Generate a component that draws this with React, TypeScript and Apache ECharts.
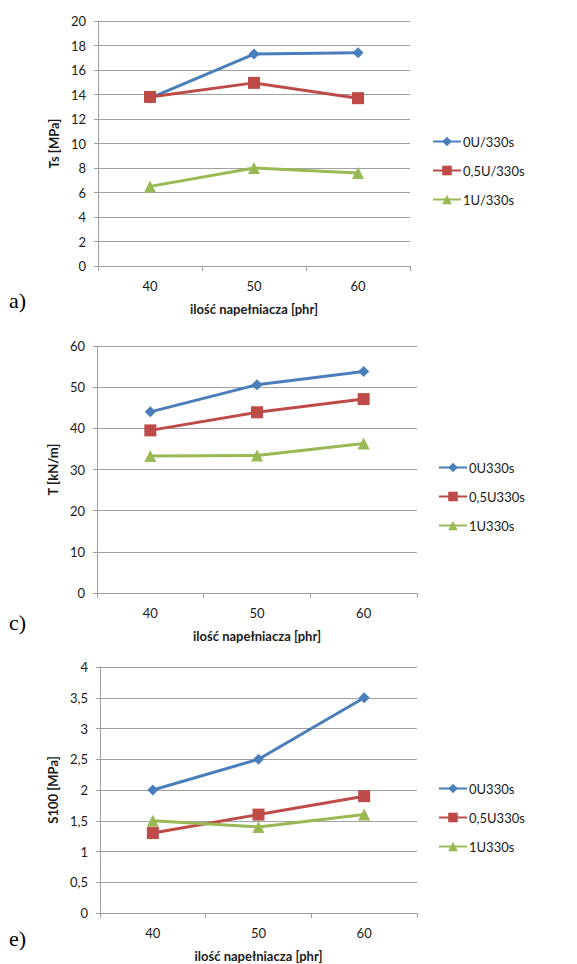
import React, { useEffect, useRef } from "react";
import * as echarts from "echarts";

const categories = ["40", "50", "60"];

const namesA = ["0U/330s", "0,5U/330s", "1U/330s"];
const namesB = ["0U330s", "0,5U330s", "1U330s"];

const tsBlue = [13.7, 17.3, 17.4];
const tsRed = [13.8, 14.95, 13.7];
const tsGreen = [6.5, 8.0, 7.6];

const tBlue = [44.0, 50.6, 53.8];
const tRed = [39.5, 43.9, 47.1];
const tGreen = [33.3, 33.4, 36.3];

const sBlue = [2.0, 2.5, 3.5];
const sRed = [1.3, 1.6, 1.9];
const sGreen = [1.5, 1.4, 1.6];

const xName = "ilość napełniacza [phr]";
const yNames = ["Ts [MPa]", "T [kN/m]", "S100 [MPa]"];
const panelLabels = ["a)", "c)", "e)"];

const COLORS = ["#4a7ebb", "#be4b48", "#98b954"];
const SYMBOLS = ["diamond", "rect", "triangle"];
const SIZES = [11, 12, 12];
const FONT = "Lato, 'Open Sans', sans-serif";

export default function App() {
  const ref = useRef<HTMLDivElement>(null);
  useEffect(() => {
    if (!ref.current) return;
    const chart = echarts.init(ref.current, null, { renderer: "svg" });

    const grids = [
      { left: 98, top: 21, width: 312, height: 245 },
      { left: 97, top: 346, width: 320, height: 247 },
      { left: 100, top: 667, width: 317, height: 246 },
    ];
    const yRanges = [
      { max: 20, interval: 2 },
      { max: 60, interval: 10 },
      { max: 4, interval: 0.5 },
    ];
    const legendPos = [
      { left: 432, top: 135 },
      { left: 438, top: 461 },
      { left: 438, top: 782 },
    ];
    const labelY = [302, 624, 940];
    const data = [
      [tsBlue, tsRed, tsGreen],
      [tBlue, tRed, tGreen],
      [sBlue, sRed, sGreen],
    ];
    const names = [namesA, namesB, namesB];

    const axisGray = "#a0a0a0";
    const textColor = "#1a1a1a";

    const xAxis = grids.map((_, i) => ({
      type: "category",
      gridIndex: i,
      data: categories,
      boundaryGap: true,
      name: xName,
      nameLocation: "middle",
      nameGap: 36,
      nameTextStyle: { fontFamily: FONT, fontWeight: "bold", fontSize: 13, color: textColor },
      axisLine: { lineStyle: { color: axisGray, width: 1 } },
      axisTick: { show: true, length: 5, lineStyle: { color: axisGray } },
      axisLabel: { margin: 13, fontFamily: FONT, fontSize: 13, color: textColor },
      splitLine: { show: false },
    }));

    const yAxis = grids.map((_, i) => ({
      type: "value",
      gridIndex: i,
      min: 0,
      max: yRanges[i].max,
      interval: yRanges[i].interval,
      name: yNames[i],
      nameLocation: "middle",
      nameGap: 32,
      nameTextStyle: { fontFamily: FONT, fontWeight: "bold", fontSize: 13, color: textColor },
      axisLine: { show: true, lineStyle: { color: axisGray, width: 1 } },
      axisTick: { show: true, length: 4, lineStyle: { color: axisGray } },
      axisLabel: {
        margin: 12,
        fontFamily: FONT,
        fontSize: 13,
        color: textColor,
        formatter: (v: number) => String(v).replace(".", ","),
      },
      splitLine: { show: true, lineStyle: { color: axisGray, width: 1 } },
    }));

    const series: any[] = [];
    data.forEach((group, gi) => {
      group.forEach((vals, si) => {
        series.push({
          type: "line",
          name: names[gi][si],
          xAxisIndex: gi,
          yAxisIndex: gi,
          data: vals,
          symbol: SYMBOLS[si],
          symbolSize: SIZES[si],
          showAllSymbol: true,
          lineStyle: { color: COLORS[si], width: 3 },
          itemStyle: { color: COLORS[si] },
          z: 3 + si,
        });
      });
    });

    const legend = legendPos.map((p, i) => ({
      orient: "vertical",
      left: p.left,
      top: p.top,
      data: names[i],
      itemWidth: 28,
      itemHeight: 12,
      itemGap: 16,
      padding: 0,
      selectedMode: false,
      textStyle: { fontFamily: FONT, fontSize: 13, color: textColor, padding: [0, 0, 0, -3] },
    }));

    const graphic = panelLabels.map((t, i) => ({
      type: "text",
      left: 9,
      top: labelY[i] - 13,
      style: {
        text: t,
        font: "22px 'Liberation Serif', 'DejaVu Serif', serif",
        fill: "#000",
      },
    }));

    chart.setOption({
      animation: false,
      backgroundColor: "#fff",
      grid: grids,
      xAxis,
      yAxis,
      series,
      legend,
      graphic,
    });

    return () => chart.dispose();
  }, []);

  return (
    <div
      ref={ref}
      style={{ position: "absolute", left: 0, top: 0, width: 577, height: 964 }}
    />
  );
}
